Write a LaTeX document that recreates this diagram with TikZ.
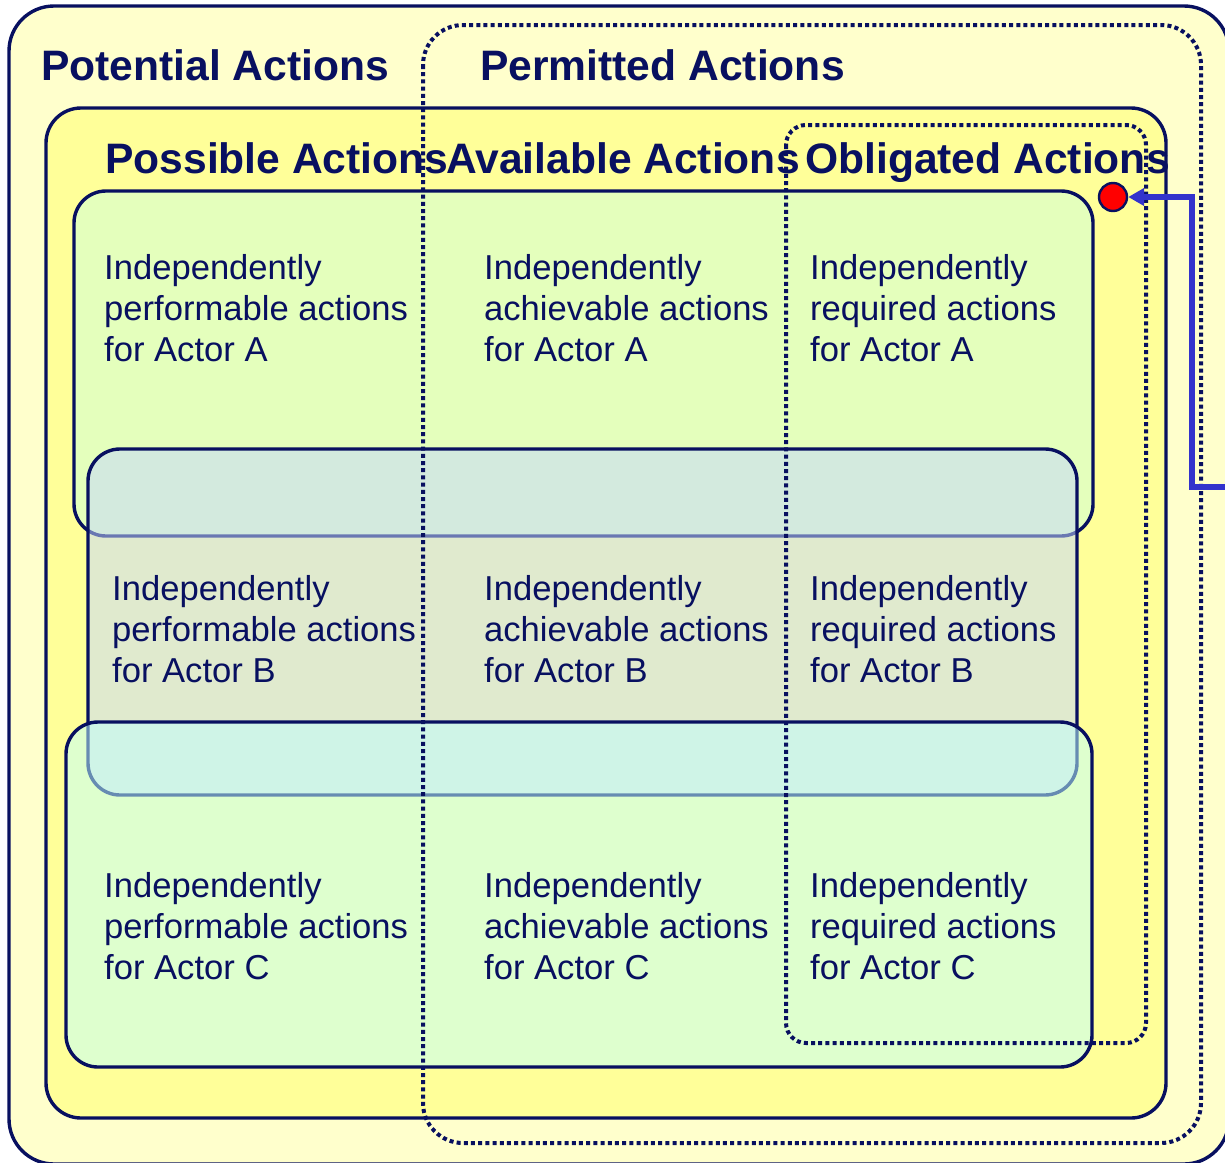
\documentclass[tikz,border=0pt]{standalone}
\usepackage{fontspec}
\setmainfont{Liberation Sans}
\usetikzlibrary{arrows.meta}
\definecolor{navy}{RGB}{8,16,96}
\definecolor{paleyellow}{HTML}{FFFFCC}
\definecolor{midyellow}{HTML}{FFFF99}
\definecolor{actorA}{HTML}{CCFFDD}
\definecolor{actorB}{HTML}{C4D8FF}
\definecolor{actorC}{HTML}{C0FFFF}
\definecolor{linkblue}{HTML}{3333CC}
\tikzset{
  setbox/.style={draw=navy, line width=3.4pt, rounded corners=#1},
  actorbox/.style={draw=navy, line width=3.4pt, rounded corners=32pt, fill=#1, fill opacity=0.52, draw opacity=1},
  dotbox/.style={draw=navy, line width=4pt, dash pattern=on 4pt off 3.2pt, rounded corners=#1},
  settitle/.style={anchor=base west, inner sep=0pt, text=navy, font=\fontsize{42.6}{48}\selectfont\bfseries},
  celltext/.style={anchor=north west, inner sep=0pt, align=left, text=navy, font=\fontsize{34.6}{41}\selectfont},
  link/.style={draw=linkblue, line width=5.5pt, -{Triangle[length=16pt,width=17pt]}},
}
\begin{document}
\begin{tikzpicture}[x=1pt,y=-1pt]
\useasboundingbox (0,0) rectangle (1225,1162);
\begin{scope}
\clip (0,0) rectangle (1225,1162);
% potential actions
\draw[setbox=45pt, fill=paleyellow] (9,6) rectangle (1229,1164);
% possible actions
\draw[setbox=35pt, fill=midyellow] (46,108) rectangle (1166,1118);
% actor bands, drawn translucent so earlier outlines fade beneath
\draw[actorbox=actorA] (74,191) rectangle (1093,536);
\draw[actorbox=actorB] (88,449) rectangle (1077,795);
\draw[actorbox=actorC] (66,722) rectangle (1092,1067);

% set titles
\node[settitle] (tpot) at (41,80) {Potential Actions};
\node[settitle] (tperm) at (480,80) {Permitted Actions};
\node[settitle] (tposs) at (105,173) {Possible Actions};
\node[settitle] (tavail) at (446,173) {Available Actions};
\node[settitle] (tobl) at (805,173) {Obligated Actions};

% cells
\node[celltext] (a1) at (104,254) {Independently\\performable actions\\for Actor A};
\node[celltext] (a2) at (484,254) {Independently\\achievable actions\\for Actor A};
\node[celltext] (a3) at (810,254) {Independently\\required actions\\for Actor A};
\node[celltext] (b1) at (112,575) {Independently\\performable actions\\for Actor B};
\node[celltext] (b2) at (484,575) {Independently\\achievable actions\\for Actor B};
\node[celltext] (b3) at (810,575) {Independently\\required actions\\for Actor B};
\node[celltext] (c1) at (104,872) {Independently\\performable actions\\for Actor C};
\node[celltext] (c2) at (484,872) {Independently\\achievable actions\\for Actor C};
\node[celltext] (c3) at (810,872) {Independently\\required actions\\for Actor C};

% permitted and obligated actions
\draw[dotbox=40pt] (423,25) rectangle (1201,1143);
\draw[dotbox=20pt] (786,125) rectangle (1146,1043);

% marker and its incoming link
\node[circle, draw=navy, line width=2.4pt, fill=red, minimum size=28pt, inner sep=0pt] (dot) at (1113,197) {};
\coordinate (feed) at (1240,487);
\coordinate (turn) at (1192,487);
\draw[link] (feed) -- (turn) |- (dot.east);
\end{scope}
\end{tikzpicture}
\end{document}
